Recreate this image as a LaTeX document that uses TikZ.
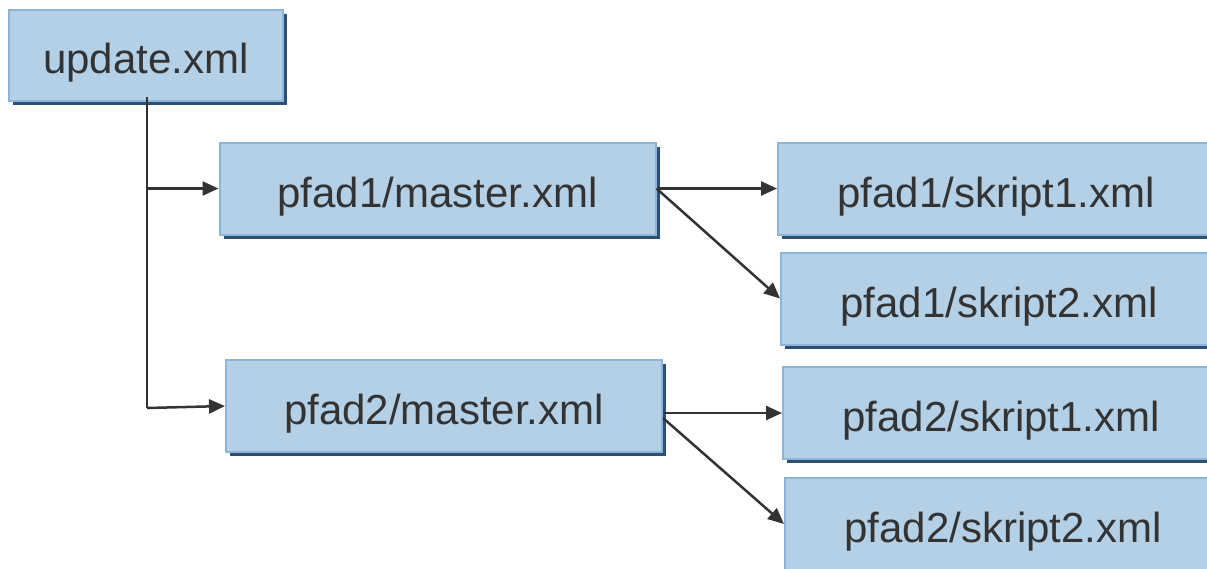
\documentclass[tikz,border=0pt]{standalone}
\usepackage{fontspec}
\setmainfont{Liberation Sans}
\usetikzlibrary{arrows.meta,shadows}
\definecolor{boxfill}{HTML}{B3D0E6}
\definecolor{boxedge}{HTML}{8DB4D9}
\definecolor{shadowc}{HTML}{2B5074}
\definecolor{ink}{HTML}{333333}
\tikzset{
  fbox/.style={draw=boxedge, line width=2pt, fill=boxfill, inner sep=0pt,
    text=ink, font=\fontsize{42}{50}\selectfont,
    text height=37pt, text depth=0pt,
    minimum width=436pt, minimum height=92pt,
    drop shadow={shadow xshift=4pt, shadow yshift=-4pt, fill=shadowc, opacity=1}},
  conn/.style={draw=ink, line width=2.5pt, -{Triangle[length=16pt,width=14pt]}},
  plain/.style={draw=ink, line width=2.5pt}
}
\begin{document}
\begin{tikzpicture}[x=1pt,y=-1pt]
\useasboundingbox (0,0) rectangle (1207,568);
\clip (0,0) rectangle (1207,568);
\node[fbox, minimum width=274pt, minimum height=91pt] (u) at (146,55) {update.xml};
\node[fbox] (m1) at (437.5,188.5) {pfad1/master.xml};
\node[fbox] (s11) at (996,188.5) {pfad1/skript1.xml};
\node[fbox] (s12) at (999,298.5) {pfad1/skript2.xml};
\node[fbox] (m2) at (444,406) {pfad2/master.xml};
\node[fbox] (s21) at (1001,413) {pfad2/skript1.xml};
\node[fbox] (s22) at (1003,524) {pfad2/skript2.xml};
\coordinate (top) at (147,97);
\coordinate (j1) at (147,188.5);
\coordinate (j2) at (147,408);
\draw[plain] (top) -- (j2);
\draw[conn] (j2) -- (m2.west);
\draw[conn] (j1) -- (m1.west);
\draw[conn] (m1.east) -- (s11.west);
\draw[conn] (m1.east) -- (s12.west);
\coordinate (m2a) at (m2.east |- s21.west);
\coordinate (m2b) at ([yshift=-12pt]m2.east);
\draw[conn] (m2a) -- (s21.west);
\draw[conn] (m2b) -- (s22.west);
\end{tikzpicture}
\end{document}
